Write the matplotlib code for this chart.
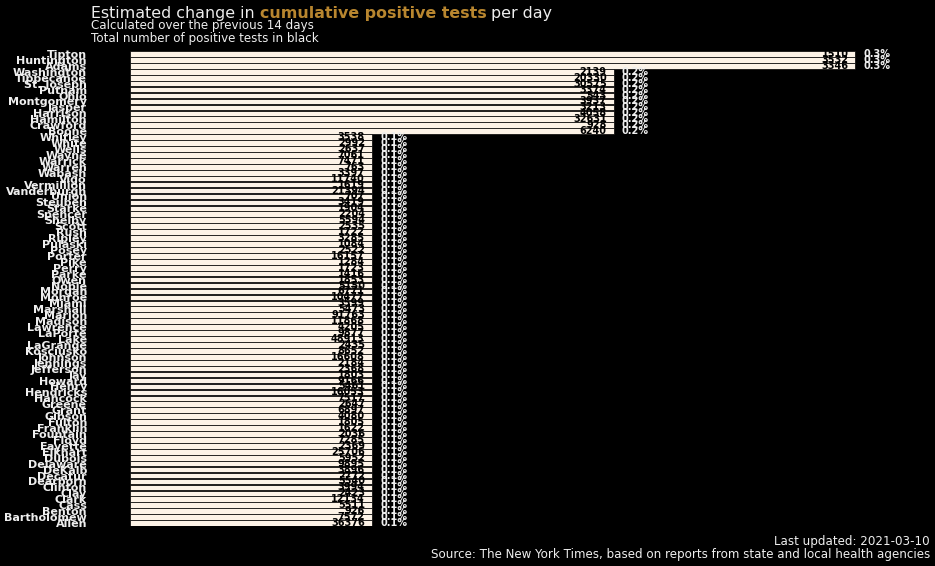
import matplotlib
matplotlib.use("Agg")
import matplotlib.pyplot as plt
import numpy as np

counties = ["Tipton", "Huntington", "Adams", "Washington", "Tippecanoe", "St. Joseph",
            "Putnam", "Ohio", "Montgomery", "Jasper", "Harrison", "Hamilton", "Crawford",
            "Boone", "Whitley", "White", "Wells", "Wayne", "Warrick", "Warren", "Wabash",
            "Vigo", "Vermillion", "Vanderburgh", "Union", "Steuben", "Starke", "Spencer",
            "Shelby", "Scott", "Rush", "Ripley", "Pulaski", "Posey", "Porter", "Pike",
            "Perry", "Parke", "Owen", "Noble", "Morgan", "Monroe", "Miami", "Marshall",
            "Marion", "Madison", "Lawrence", "LaPorte", "Lake", "LaGrange", "Kosciusko",
            "Johnson", "Jennings", "Jefferson", "Jay", "Howard", "Henry", "Hendricks",
            "Hancock", "Greene", "Grant", "Gibson", "Fulton", "Franklin", "Fountain",
            "Floyd", "Fayette", "Elkhart", "Dubois", "Delaware", "DeKalb", "Decatur",
            "Dearborn", "Clinton", "Clay", "Clark", "Cass", "Benton", "Bartholomew", "Allen"]

pct_change = [0.3, 0.3, 0.3] + [0.2] * 11 + [0.1] * 66

total_positive = [1510, 3532, 3346, 2139, 20330, 30575, 3374, 543, 3937, 3213, 4058, 32631,
                  928, 6240, 3538, 2992, 2637, 7061, 7471, 763, 3397, 11740, 1619, 21394,
                  707, 3419, 1904, 2204, 5594, 2535, 1722, 3285, 1084, 2522, 16157, 1284,
                  1723, 1416, 1853, 5150, 6771, 10477, 3599, 5473, 91763, 11868, 4205, 9877,
                  48913, 2435, 8652, 16608, 2184, 2368, 1803, 9166, 5461, 16053, 7517, 2647,
                  6897, 4080, 1805, 1622, 2036, 7285, 2369, 25706, 5952, 9895, 3896, 2772,
                  5540, 3994, 2423, 12134, 5511, 926, 7572, 36376]

BG = "black"
BAR = "#fdf3e7"
GOLD = "#b8862f"
TXT = "#eeeeee"

fig = plt.figure(figsize=(9.35, 5.66), dpi=100, facecolor=BG)
ax = fig.add_axes([130 / 935, 1 - 526 / 566, (928 - 130) / 935, (526 - 51) / 566])
ax.set_facecolor(BG)

y = np.arange(len(counties))
ax.barh(y, pct_change, height=0.95, color=BAR, edgecolor="black", linewidth=0.5)
ax.set_ylim(len(counties) - 0.5, -0.5)
ax.set_xlim(0, 0.33)

ax.set_yticks(y)
ax.set_yticklabels(counties, fontsize=8, fontweight="bold", color=TXT)
ax.tick_params(axis="y", length=0, pad=31)
ax.set_xticks([])
for s in ax.spines.values():
    s.set_visible(False)

for yi, p, t in zip(y, pct_change, total_positive):
    ax.annotate(f"{t}", (p, yi), xytext=(-5, 0), textcoords="offset points",
                ha="right", va="center", fontsize=7, fontweight="bold", color="black")
    ax.annotate(f"{p:.1f}%", (p, yi), xytext=(6, 0), textcoords="offset points",
                ha="left", va="center", fontsize=7, fontweight="bold", color=TXT)

# Title with a highlighted segment
fig.canvas.draw()
renderer = fig.canvas.get_renderer()
x0 = 91 / 935
ty = 1 - 18 / 566
parts = [("Estimated change in ", "normal", TXT), ("cumulative positive tests", "bold", GOLD),
         (" per day", "normal", TXT)]
xc = x0
for s, w, c in parts:
    t = fig.text(xc, ty, s, fontsize=11.4, fontweight=w, color=c, ha="left", va="baseline")
    bb = t.get_window_extent(renderer=renderer)
    xc += bb.width / fig.bbox.width

fig.text(x0, 1 - 29 / 566, "Calculated over the previous 14 days", fontsize=8.6,
         color=TXT, ha="left", va="baseline")
fig.text(x0, 1 - 42 / 566, "Total number of positive tests in black", fontsize=8.6,
         color=TXT, ha="left", va="baseline")

fig.text(930 / 935, 1 - 545 / 566, "Last updated: 2021-03-10", fontsize=8.6,
         color=TXT, ha="right", va="baseline")
fig.text(930 / 935, 1 - 558 / 566,
         "Source: The New York Times, based on reports from state and local health agencies",
         fontsize=8.6, color=TXT, ha="right", va="baseline")

fig.savefig("out.png", dpi=100, facecolor=BG)
